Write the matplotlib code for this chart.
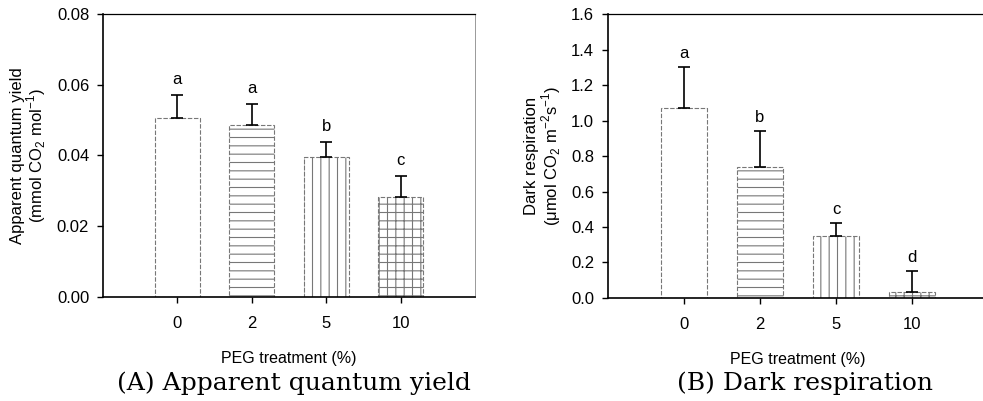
import matplotlib
matplotlib.use("Agg")
import matplotlib.pyplot as plt
import numpy as np

plt.rcParams["font.family"] = ["Liberation Sans", "DejaVu Sans"]
plt.rcParams["mathtext.fontset"] = "custom"
plt.rcParams["mathtext.rm"] = "Liberation Sans"
plt.rcParams["hatch.linewidth"] = 0.8

treatments = ["0", "2", "5", "10"]
quantum_yield = [0.0505, 0.0485, 0.0397, 0.0282]
quantum_err = [0.0066, 0.0060, 0.0041, 0.0060]
quantum_letters = ["a", "a", "b", "c"]
dark_resp = [1.07, 0.74, 0.35, 0.035]
dark_err = [0.23, 0.20, 0.07, 0.115]
dark_letters = ["a", "b", "c", "d"]
hatches = ["", "--", "||", "++"]
captions = ["(A) Apparent quantum yield", "(B) Dark respiration"]


def draw_panel(ax, values, errs, letters, ymax, yticks, fmt, ylabel, offset):
    x = np.arange(len(values))
    for i in range(len(values)):
        ax.bar(x[i], values[i], width=0.6, color="white", edgecolor="#777777",
               hatch=hatches[i], linestyle=(0, (4, 1.5)), linewidth=0.8)
    ax.errorbar(x, values, yerr=[np.zeros(len(errs)), errs], fmt="none",
                ecolor="black", elinewidth=1.2, capsize=4, capthick=1.2)
    for i in range(len(values)):
        ax.text(x[i], values[i] + errs[i] + offset, letters[i],
                ha="center", va="bottom", fontsize=12)
    ax.set_xlim(-1, 4)
    ax.set_ylim(0, ymax)
    ax.set_xticks(x)
    ax.set_xticklabels(treatments, fontsize=12)
    ax.set_yticks(yticks)
    ax.set_yticklabels([fmt.format(t) for t in yticks], fontsize=12)
    ax.tick_params(axis="both", direction="out", length=4, width=1)
    ax.tick_params(axis="x", pad=10)
    ax.tick_params(axis="y", pad=6)
    ax.set_ylabel(ylabel, fontsize=12, linespacing=1.0, labelpad=6)
    ax.set_xlabel("PEG treatment (%)", fontsize=11.5, labelpad=14)
    for side in ["left", "bottom"]:
        ax.spines[side].set_linewidth(1.2)
    ax.spines["top"].set_linewidth(0.9)
    ax.spines["right"].set_linewidth(0.7)
    ax.spines["right"].set_color("#999999")


fig = plt.figure(figsize=(9.83, 4.01), dpi=100)
ax1 = fig.add_axes([0.1048, 0.2594, 0.3784, 0.7057])
ax2 = fig.add_axes([0.6185, 0.2569, 0.3866, 0.7080])

draw_panel(ax1, quantum_yield, quantum_err, quantum_letters, 0.08,
           [0.0, 0.02, 0.04, 0.06, 0.08], "{:.2f}",
           "Apparent quantum yield\n(mmol CO$_2$ mol$^{-1}$)", 0.0022)
draw_panel(ax2, dark_resp, dark_err, dark_letters, 1.6,
           [0.0, 0.2, 0.4, 0.6, 0.8, 1.0, 1.2, 1.4, 1.6], "{:.1f}",
           "Dark respiration\n(\u03bcmol CO$_2$ m$^{-2}$s$^{-1}$)", 0.035)

fig.text(294 / 983, 1 - 383 / 401, captions[0], ha="center", va="center",
         fontsize=18, family="DejaVu Serif")
fig.text(805 / 983, 1 - 383 / 401, captions[1], ha="center", va="center",
         fontsize=18, family="DejaVu Serif")

fig.savefig("out.png", dpi=100)
